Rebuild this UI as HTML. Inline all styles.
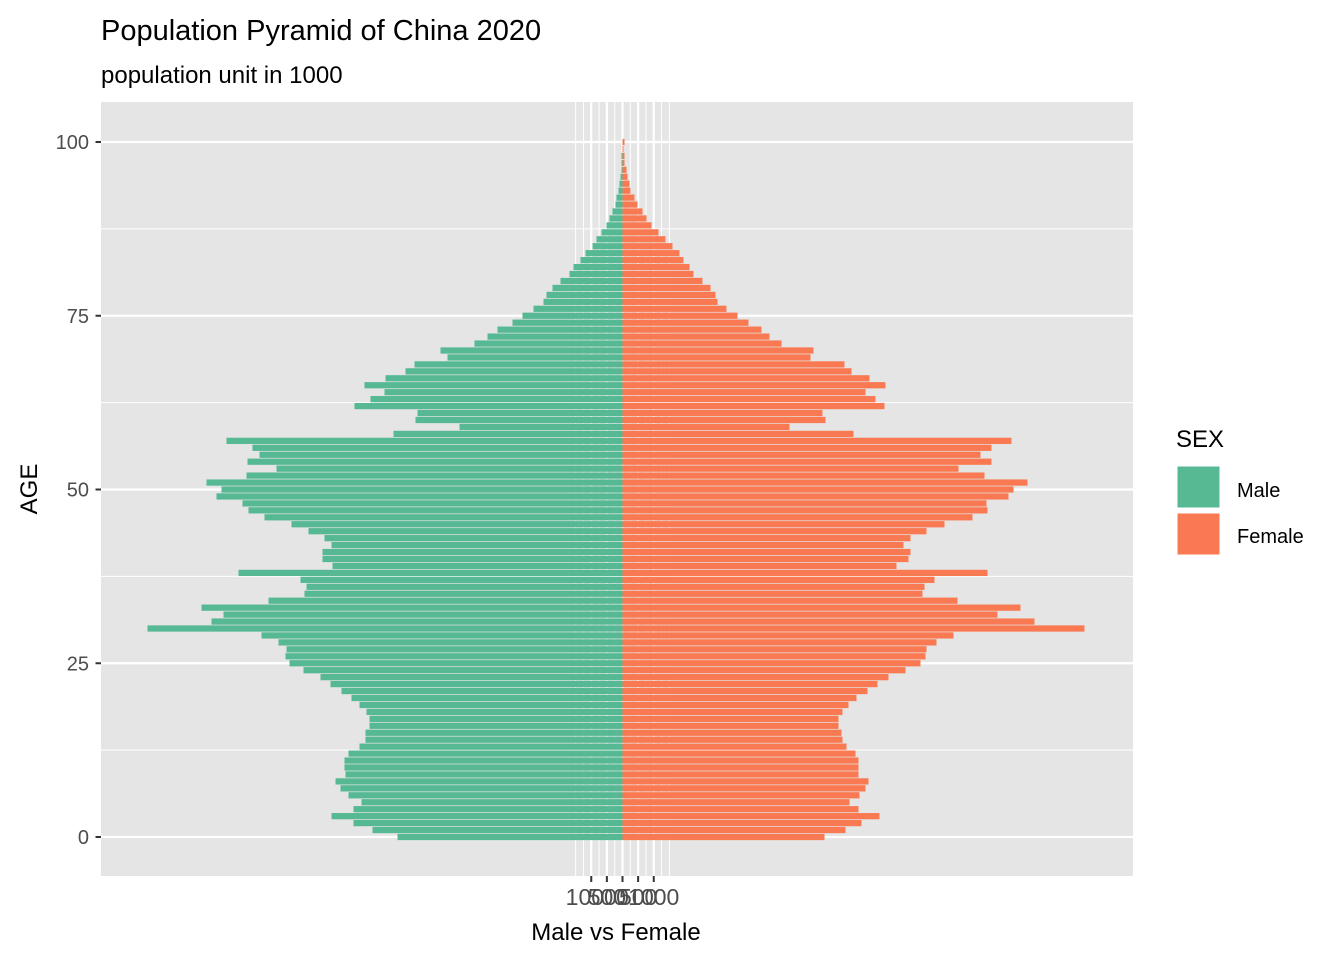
<!DOCTYPE html>
<html><head><meta charset="utf-8"><style>
body{margin:0;background:#fff;font-family:"Liberation Sans",Arial,sans-serif}
</style></head><body>
<svg id="chart" width="1344" height="960" xmlns="http://www.w3.org/2000/svg" font-family="Liberation Sans, Arial, sans-serif">
<rect width="1344" height="960" fill="#fff"/>
<text x="101" y="40" font-size="29" fill="#000">Population Pyramid of China 2020</text>
<text x="101" y="83" font-size="24" fill="#000">population unit in 1000</text>
<rect x="101" y="102" width="1032" height="774" fill="#e5e5e5"/>
<g id="grid"></g>
<g id="bars"></g>
<g id="axes"></g>
<text x="616" y="940" font-size="24" text-anchor="middle" fill="#000">Male vs Female</text>
<text transform="translate(37,489) rotate(-90)" font-size="24" text-anchor="middle" fill="#000">AGE</text>
<g>
<text x="1176" y="447" font-size="24" fill="#000">SEX</text>
<rect x="1177" y="466" width="43" height="42" fill="#57b994" stroke="#fff" stroke-width="1"/>
<text x="1237" y="497" font-size="20" fill="#000">Male</text>
<rect x="1177" y="513" width="43" height="42" fill="#f97a52" stroke="#fff" stroke-width="1"/>
<text x="1237" y="543" font-size="20" fill="#000">Female</text>
</g>
</svg>
<script>
const ages = Array.from({length:101},(_,i)=>i);
const maleValues = [7200,8000,8608,9312,8608,8352,8768,9024,9184,8864,8896,8896,8768,8416,8224,8224,8096,8096,8192,8416,8672,8992,9344,9664,10208,10656,10784,10752,11008,11552,15200,13152,12768,13472,11328,10176,10112,10304,12288,9280,9600,9600,9312,9536,10048,10592,11456,11968,12160,12992,12832,13312,12032,11072,12000,11616,11840,12672,7328,5216,6624,6560,8576,8064,7616,8256,7584,6944,6656,5600,5824,4736,4320,4000,3520,3200,2848,2528,2432,2240,1984,1696,1568,1344,1184,960,832,672,512,416,320,224,192,128,96,64,32,32,32,0,0];
const femaleValues = [6464,7136,7648,8224,7552,7264,7584,7776,7872,7552,7552,7552,7456,7168,7040,7008,6912,6912,7040,7232,7488,7840,8160,8512,9056,9536,9696,9728,10048,10592,14784,13184,12000,12736,10720,9600,9664,9984,11680,8768,9152,9216,8992,9216,9728,10304,11200,11680,11648,12352,12512,12960,11584,10752,11808,11456,11808,12448,7392,5344,6496,6400,8384,8096,7776,8416,7904,7328,7104,6016,6112,5088,4704,4448,4032,3680,3328,3040,2976,2816,2560,2272,2144,1952,1824,1600,1376,1152,928,768,640,480,384,256,224,160,128,64,64,32,64];
const xTicks = [-1000,-500,0,500,1000];
const xTickLabels = ["1000","500","0","500","1000"];
const xGrid = [-1500,-1250,-1000,-750,-500,-250,0,250,500,750,1000,1250,1500];
const yTicks = [0,25,50,75,100];
const yMinor = [12.5,37.5,62.5,87.5];

const NS="http://www.w3.org/2000/svg";
const x = v => 622.5 + v/32;
const y = a => 837 - a*6.95;
function mk(tag, attrs, parent){const e=document.createElementNS(NS,tag);for(const k in attrs)e.setAttribute(k,attrs[k]);parent.appendChild(e);return e;}
const grid=document.getElementById('grid'), bars=document.getElementById('bars'), axes=document.getElementById('axes');
yMinor.forEach(t=>{const l=mk('line',{x1:101,x2:1133,y1:y(t),y2:y(t),stroke:'#fff','stroke-width':1},grid);

});
yTicks.forEach(t=>{const l=mk('line',{x1:101,x2:1133,y1:y(t),y2:y(t),stroke:'#fff','stroke-width':2.2},grid);

});
xGrid.forEach(t=>{const major=(t%500===0)&&Math.abs(t)<=1000;const l=mk('line',{x1:x(t),x2:x(t),y1:102,y2:876,stroke:'#fff','stroke-width':major?2.2:1},grid);

});
const bh=6.25;
ages.forEach((a,i)=>{
 const m=mk('rect',{x:x(-maleValues[i]),y:y(a)-bh/2,width:maleValues[i]/32,height:bh,fill:'#57b994'},bars);
 
 
 const f=mk('rect',{x:x(0),y:y(a)-bh/2,width:femaleValues[i]/32,height:bh,fill:'#f97a52'},bars);
 
 
});
yTicks.forEach(t=>{
 const l=mk('line',{x1:95.5,x2:101,y1:y(t),y2:y(t),stroke:'#333','stroke-width':2},axes);
 
 
 const tx=mk('text',{x:89,y:y(t)+7,'font-size':20,'text-anchor':'end',fill:'#4d4d4d'},axes);
 tx.textContent=t;
 
 
});
xTicks.forEach((t,i)=>{
 const l=mk('line',{x1:x(t),x2:x(t),y1:876,y2:882,stroke:'#333','stroke-width':2},axes);
 
 
 const tx=mk('text',{x:x(t),y:905,'font-size':23,'text-anchor':'middle',fill:'#4d4d4d'},axes);
 tx.textContent=xTickLabels[i];
 
 
});
</script>
</body></html>
